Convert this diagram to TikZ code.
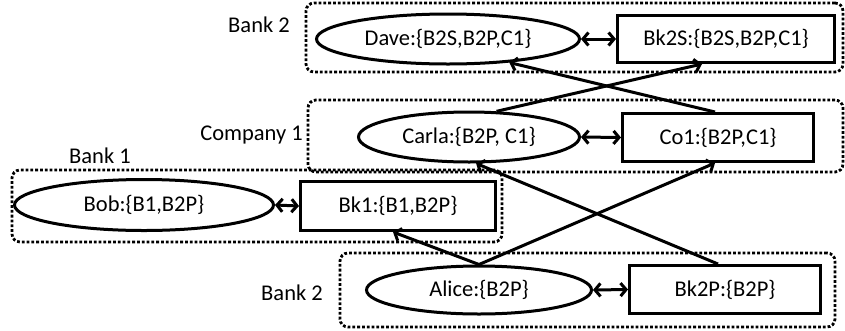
\documentclass[tikz,border=0pt]{standalone}
\usepackage{fontspec}
\setmainfont{Carlito}
\usetikzlibrary{arrows.meta,shapes.geometric}
\begin{document}
\begin{tikzpicture}[x=1pt,y=-1pt,
  every node/.style={font=\fontsize{22.5}{27}\selectfont},
  ell/.style={draw, ellipse, line width=3pt, inner sep=0pt},
  box/.style={draw, rectangle, line width=3pt, inner sep=0pt},
  grp/.style={draw, rectangle, rounded corners=8pt, line width=2.8pt, dash pattern=on 2.8pt off 2pt, inner sep=0pt},
  lbl/.style={inner sep=0pt},
  tip/.style={Straight Barb[length=5.5pt,width=13pt]},
  conn/.style={line width=3pt, -{Straight Barb[length=5.5pt,width=13pt]}},
  dbl/.style={line width=3pt, {Straight Barb[length=5.5pt,width=13pt]}-{Straight Barb[length=5.5pt,width=13pt]}}
]
\useasboundingbox (0,0) rectangle (845,330);

% groups
\node[grp, minimum width=537pt, minimum height=69pt] (gtop) at (574.5,37.5) {};
\node[grp, minimum width=535pt, minimum height=72pt] (gco) at (575.5,136) {};
\node[grp, minimum width=490pt, minimum height=72pt] (gb1) at (257,206) {};
\node[grp, minimum width=495pt, minimum height=74pt] (gb2) at (587.5,290) {};

% labels
\node[lbl, anchor=base east] (ltop) at (290,32) {Bank 2};
\node[lbl, anchor=base east] (lco) at (303,140) {Company 1};
\node[lbl, anchor=base] (lb1) at (100,163) {Bank 1};
\node[lbl, anchor=base east] (lb2) at (323,300) {Bank 2};

% nodes
\node[ell, minimum width=263pt, minimum height=50pt] (dave) at (448,39) {Dave:\{B2S,B2P,C1\}};
\node[box, minimum width=217pt, minimum height=47pt] (bk2s) at (726,39) {Bk2S:\{B2S,B2P,C1\}};
\node[ell, minimum width=221pt, minimum height=50pt] (carla) at (469,137) {Carla:\{B2P, C1\}};
\node[box, minimum width=191pt, minimum height=48pt] (co1) at (718,137.5) {Co1:\{B2P,C1\}};
\node[ell, minimum width=259pt, minimum height=51pt] (bob) at (144,205) {Bob:\{B1,B2P\}};
\node[box, minimum width=195pt, minimum height=49pt] (bk1) at (398,206) {Bk1:\{B1,B2P\}};
\node[ell, minimum width=225pt, minimum height=48pt] (alice) at (479,290) {Alice:\{B2P\}};
\node[box, minimum width=191pt, minimum height=48pt] (bk2p) at (725,289.5) {Bk2P:\{B2P\}};

% horizontal double arrows
\draw[dbl] (dave.east) -- (bk2s.west);
\draw[dbl] (carla.east) -- (co1.west);
\draw[dbl] (bob.east) -- (bk1.west);
\draw[dbl] (alice.east) -- (bk2p.west);

% crossing connectors
\draw[conn] (carla.43) -- ([xshift=-24pt]bk2s.south);
\draw[conn] ([xshift=-3pt]co1.north) -- (dave.339);
\draw[conn] (alice.north) -- ([xshift=-5pt]bk1.south);
\draw[conn] (alice.north) -- ([xshift=-3pt]co1.south);
\draw[conn] ([xshift=-7pt]bk2p.north) -- (carla.285);
\end{tikzpicture}
\end{document}
